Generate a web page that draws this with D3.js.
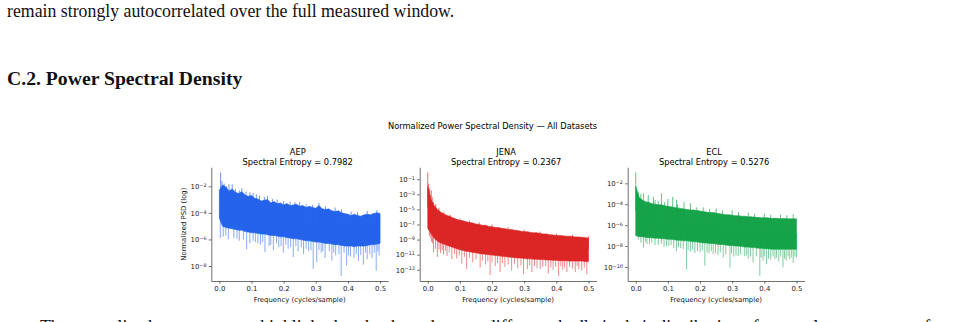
<!DOCTYPE html>
<html><head><meta charset="utf-8">
<script src="https://cdn.jsdelivr.net/npm/d3@7"></script>
<style>
html,body{margin:0;padding:0;background:#fff;overflow:hidden;}
svg{display:block;}
</style></head>
<body>
<svg id="page" width="971" height="322"></svg>
<script>
// ---------- data (PSD values stored as log10 exponents) ----------
const datasets = ["AEP", "JENA", "ECL"];
const entropies = ["0.7982", "0.2367", "0.5276"];
const colors = ["#2563eb", "#dc2626", "#16a34a"];
const xTicks = [0, 0.1, 0.2, 0.3, 0.4, 0.5];
const aepYTicks = [-8, -6, -4, -2];
const jenaYTicks = [-13, -11, -9, -7, -5, -3, -1];
const eclYTicks = [-10, -8, -6, -4, -2];

const freqGrid = [0,0.01,0.02,0.03,0.04,0.05,0.06,0.07,0.08,0.09,0.10,0.11,0.12,0.13,0.14,0.15,0.16,0.17,0.18,0.19,0.20,0.21,0.22,0.23,0.24,0.25,0.26,0.27,0.28,0.29,0.30,0.31,0.32,0.33,0.34,0.35,0.36,0.37,0.38,0.39,0.40,0.41,0.42,0.43,0.44,0.45,0.46,0.47,0.48,0.49,0.50];

const aepHi = [-2.3,-1.9,-2.05,-2.35,-2.2,-2.45,-2.55,-2.4,-2.65,-2.75,-2.7,-2.9,-2.95,-3.1,-3.05,-3.0,-3.25,-3.15,-3.3,-3.25,-3.4,-3.3,-3.45,-3.4,-3.35,-3.5,-3.45,-3.6,-3.5,-3.6,-3.65,-3.45,-3.7,-3.75,-3.7,-3.85,-3.9,-3.85,-4.0,-4.05,-4.1,-4.2,-4.1,-4.2,-4.25,-4.15,-4.1,-4.15,-4.05,-4.0,-4.05];
const aepLo = [-4.4,-5.0,-5.1,-5.15,-5.2,-5.25,-5.3,-5.3,-5.4,-5.45,-5.5,-5.5,-5.55,-5.6,-5.6,-5.65,-5.7,-5.7,-5.75,-5.8,-5.8,-5.85,-5.9,-5.95,-5.95,-6.0,-6.05,-6.1,-6.1,-6.15,-6.2,-6.2,-6.25,-6.3,-6.3,-6.35,-6.4,-6.4,-6.45,-6.5,-6.5,-6.5,-6.55,-6.5,-6.5,-6.5,-6.45,-6.4,-6.4,-6.35,-6.3];
const aepUp = [[0.004,-0.96],[0.008,-1.6],[0.015,-1.8],[0.022,-2.0],[0.03,-1.85],[0.04,-1.85],[0.05,-2.2],[0.062,-2.3],[0.07,-2.15],[0.083,-2.4],[0.095,-2.45],[0.105,-2.5],[0.115,-2.6],[0.125,-2.7],[0.14,-2.8],[0.15,-2.75],[0.165,-2.95],[0.18,-3.0],[0.2,-3.1],[0.22,-3.15],[0.235,-3.2],[0.25,-3.2],[0.27,-3.35],[0.29,-3.4],[0.31,-3.25],[0.33,-3.5],[0.36,-3.6],[0.38,-3.75],[0.41,-3.9],[0.43,-3.95],[0.46,-3.85],[0.49,-3.8]];
const aepDown = [[0.003,-5.9],[0.012,-5.8],[0.02,-5.7],[0.028,-6.0],[0.045,-5.9],[0.055,-5.95],[0.062,-6.1],[0.075,-6.0],[0.085,-6.74],[0.095,-6.3],[0.105,-6.1],[0.112,-6.2],[0.12,-6.3],[0.128,-6.4],[0.135,-6.2],[0.142,-6.96],[0.155,-6.5],[0.16,-6.4],[0.168,-6.8],[0.178,-6.3],[0.185,-6.6],[0.192,-6.5],[0.199,-7.0],[0.207,-6.4],[0.214,-6.7],[0.222,-6.6],[0.23,-7.33],[0.238,-6.5],[0.245,-6.9],[0.255,-6.6],[0.262,-7.1],[0.27,-6.7],[0.278,-6.9],[0.285,-6.8],[0.292,-8.22],[0.303,-7.7],[0.31,-6.8],[0.317,-7.0],[0.322,-6.9],[0.329,-7.4],[0.342,-6.9],[0.35,-7.6],[0.356,-7.0],[0.362,-7.2],[0.372,-7.1],[0.379,-8.74],[0.388,-7.0],[0.396,-7.98],[0.402,-7.2],[0.408,-7.3],[0.419,-7.4],[0.426,-7.1],[0.433,-7.6],[0.44,-7.2],[0.448,-7.9],[0.455,-7.0],[0.46,-7.5],[0.468,-7.1],[0.475,-7.4],[0.482,-7.0],[0.488,-8.35],[0.493,-6.9],[0.497,-7.2]];

const jenaHi = [-2.0,-3.7,-4.5,-5.0,-5.35,-5.6,-5.8,-5.95,-6.15,-6.3,-6.45,-6.5,-6.65,-6.75,-6.8,-6.95,-7.0,-7.1,-7.1,-7.25,-7.3,-7.4,-7.4,-7.5,-7.55,-7.65,-7.65,-7.75,-7.8,-7.9,-7.95,-7.95,-8.05,-8.1,-8.1,-8.2,-8.25,-8.25,-8.35,-8.4,-8.45,-8.45,-8.5,-8.55,-8.55,-8.6,-8.65,-8.65,-8.7,-8.75,-8.8];
const jenaLo = [-7.5,-8.2,-8.8,-9.2,-9.45,-9.6,-9.75,-9.9,-10.05,-10.2,-10.35,-10.45,-10.55,-10.6,-10.7,-10.75,-10.85,-10.9,-10.95,-11.0,-11.05,-11.1,-11.15,-11.2,-11.25,-11.3,-11.35,-11.4,-11.45,-11.45,-11.5,-11.55,-11.55,-11.6,-11.6,-11.65,-11.65,-11.7,-11.7,-11.75,-11.75,-11.8,-11.8,-11.8,-11.85,-11.85,-11.85,-11.85,-11.85,-11.9,-11.9];
const jenaUp = [[0,-0.11],[0.002,-1.6],[0.004,-2.4],[0.006,-2.2],[0.008,-3.1],[0.011,-2.5],[0.014,-3.4],[0.018,-4.0],[0.025,-4.3],[0.035,-4.8],[0.05,-5.3],[0.07,-5.7],[0.1,-6.2],[0.13,-6.5],[0.16,-6.7],[0.2,-7.0],[0.25,-7.35],[0.3,-7.7],[0.35,-7.95],[0.4,-8.2],[0.45,-8.35],[0.5,-8.55]];
const jenaDown = [[0.005,-8.5],[0.008,-8.8],[0.012,-9.3],[0.015,-9.5],[0.018,-10.7],[0.024,-10.2],[0.03,-11.3],[0.035,-10.3],[0.04,-10.8],[0.045,-10.4],[0.049,-11.0],[0.055,-10.5],[0.06,-11.2],[0.067,-10.7],[0.075,-11.6],[0.083,-10.9],[0.09,-11.5],[0.098,-11.1],[0.106,-12.2],[0.114,-11.3],[0.121,-12.9],[0.13,-11.4],[0.14,-12.0],[0.15,-11.6],[0.163,-12.7],[0.17,-11.8],[0.18,-12.3],[0.187,-11.9],[0.194,-13.7],[0.2,-12.0],[0.21,-12.5],[0.217,-12.1],[0.225,-13.3],[0.232,-12.1],[0.24,-12.6],[0.25,-12.3],[0.261,-13.1],[0.27,-12.2],[0.28,-12.8],[0.29,-12.4],[0.298,-13.6],[0.31,-12.9],[0.317,-12.4],[0.324,-13.3],[0.332,-12.5],[0.34,-12.8],[0.35,-12.9],[0.358,-12.6],[0.367,-12.5],[0.375,-13.5],[0.383,-12.7],[0.39,-13.0],[0.398,-12.6],[0.407,-13.8],[0.414,-12.5],[0.42,-13.0],[0.426,-12.7],[0.433,-13.3],[0.441,-12.6],[0.45,-12.8],[0.459,-13.3],[0.465,-12.5],[0.47,-12.9],[0.479,-13.1],[0.487,-12.7],[0.495,-13.6]];

const eclHi = [-2.3,-3.3,-3.6,-3.75,-3.8,-3.95,-4.0,-4.05,-4.05,-4.15,-4.2,-4.25,-4.3,-4.35,-4.4,-4.45,-4.5,-4.55,-4.55,-4.6,-4.65,-4.7,-4.75,-4.8,-4.8,-4.85,-4.9,-4.95,-5.0,-5.0,-5.05,-5.1,-5.1,-5.15,-5.15,-5.2,-5.2,-5.25,-5.25,-5.3,-5.3,-5.3,-5.35,-5.35,-5.35,-5.4,-5.35,-5.4,-5.4,-5.4,-5.4];
const eclLo = [-7.0,-7.1,-7.1,-7.15,-7.2,-7.2,-7.25,-7.25,-7.3,-7.3,-7.35,-7.35,-7.4,-7.45,-7.45,-7.5,-7.5,-7.55,-7.6,-7.6,-7.65,-7.7,-7.7,-7.75,-7.75,-7.8,-7.85,-7.85,-7.9,-7.95,-7.95,-8.0,-8.0,-8.05,-8.1,-8.1,-8.15,-8.15,-8.2,-8.2,-8.25,-8.25,-8.3,-8.3,-8.3,-8.3,-8.3,-8.3,-8.3,-8.3,-8.3];
const eclUp = [[0,-0.96],[0.003,-2.5],[0.008,-2.8],[0.016,-3.0],[0.024,-2.95],[0.039,-3.1],[0.055,-3.3],[0.06,-3.6],[0.07,-3.7],[0.08,-2.95],[0.09,-3.8],[0.1,-3.5],[0.115,-3.3],[0.127,-3.58],[0.13,-4.0],[0.15,-3.8],[0.17,-3.9],[0.19,-4.3],[0.21,-4.3],[0.23,-4.45],[0.25,-4.4],[0.27,-4.6],[0.3,-4.6],[0.32,-4.75],[0.35,-4.8],[0.37,-4.9],[0.4,-4.9],[0.42,-5.0],[0.45,-5.0],[0.47,-5.05],[0.49,-4.95]];
const eclDown = [[0.008,-7.4],[0.016,-7.7],[0.024,-8.16],[0.03,-7.6],[0.035,-7.8],[0.043,-7.8],[0.05,-7.69],[0.06,-7.9],[0.07,-7.9],[0.08,-7.8],[0.088,-8.1],[0.096,-8.0],[0.103,-8.0],[0.11,-7.9],[0.118,-8.2],[0.127,-8.48],[0.133,-8.1],[0.14,-8.2],[0.148,-8.3],[0.158,-10.22],[0.163,-8.4],[0.17,-8.5],[0.177,-8.3],[0.184,-8.64],[0.192,-8.5],[0.2,-8.6],[0.207,-8.4],[0.215,-9.9],[0.222,-8.6],[0.228,-8.7],[0.235,-8.5],[0.241,-8.8],[0.248,-8.7],[0.256,-8.9],[0.263,-8.6],[0.272,-9.1],[0.28,-8.8],[0.293,-10.06],[0.298,-8.7],[0.305,-9.0],[0.312,-8.9],[0.319,-8.96],[0.326,-8.8],[0.339,-8.96],[0.345,-8.9],[0.35,-9.2],[0.357,-9.0],[0.365,-9.58],[0.375,-9.0],[0.386,-10.85],[0.39,-9.1],[0.396,-9.4],[0.4,-9.0],[0.407,-9.74],[0.413,-9.2],[0.42,-9.3],[0.427,-9.0],[0.433,-9.27],[0.438,-9.1],[0.445,-9.5],[0.451,-9.0],[0.458,-10.06],[0.463,-9.2],[0.468,-9.4],[0.474,-9.0],[0.479,-9.27],[0.485,-9.1],[0.49,-9.6],[0.495,-9.0],[0.5,-9.1]];

// ---------- drawing ----------
const svg = d3.select("#page");
const serif = "'Liberation Serif','Times New Roman',serif";
const sans = "'DejaVu Sans',sans-serif";

svg.append("text").attr("x", 7).attr("y", 17.3)
  .attr("font-family", serif).attr("font-size", 17.8).attr("fill", "#111")
  .text("remain strongly autocorrelated over the full measured window.");
svg.append("text").attr("x", 7).attr("y", 85)
  .attr("font-family", serif).attr("font-size", 19.7).attr("font-weight", "bold").attr("fill", "#111")
  .text("C.2. Power Spectral Density");
svg.append("text").attr("x", 40).attr("y", 332.5)
  .attr("font-family", serif).attr("font-size", 17.8).attr("fill", "#111")
  .text("The normalized power spectra highlight that the three datasets differ markedly in their distribution of spectral energy across frequencies, which");

svg.append("text").attr("x", 492.5).attr("y", 129)
  .attr("font-family", sans).attr("font-size", 8.3).attr("text-anchor", "middle").attr("fill", "#000")
  .text("Normalized Power Spectral Density \u2014 All Datasets");

const panels = [
  {hi: aepHi, lo: aepLo, up: aepUp, down: aepDown, ticks: aepYTicks},
  {hi: jenaHi, lo: jenaLo, up: jenaUp, down: jenaDown, ticks: jenaYTicks},
  {hi: eclHi, lo: eclLo, up: eclUp, down: eclDown, ticks: eclYTicks}
];
const panelLeft = [211.3, 419.7, 627.7];
const panelW = 176.8, plotTop = 167.3, plotBottom = 281;

panels.forEach((p, i) => {
  const L = panelLeft[i];
  const x = d3.scaleLinear().domain([-0.025, 0.525]).range([L, L + panelW]);
  const all = p.hi.concat(p.lo, p.up.map(d => d[1]), p.down.map(d => d[1]));
  const mn = d3.min(all), mx = d3.max(all), pad = (mx - mn) * 0.05;
  const y = d3.scaleLog().domain([Math.pow(10, mn - pad), Math.pow(10, mx + pad)]).range([plotBottom, plotTop]);
  const hiAt = d3.scaleLinear().domain(freqGrid).range(p.hi).clamp(true);
  const loAt = d3.scaleLinear().domain(freqGrid).range(p.lo).clamp(true);
  const col = colors[i];
  const g = svg.append("g");

  const area = d3.area()
    .x((d, k) => x(freqGrid[k]))
    .y0((d, k) => y(Math.pow(10, p.lo[k])))
    .y1((d, k) => y(Math.pow(10, p.hi[k])));
  g.append("path").datum(freqGrid).attr("d", area).attr("fill", col)
    .attr("stroke", col).attr("stroke-width", 0.6);

  g.selectAll("line.dn").data(p.down).join("line").attr("class", "dn")
    .attr("x1", d => x(d[0])).attr("x2", d => x(d[0]))
    .attr("y1", d => y(Math.pow(10, (hiAt(d[0]) + loAt(d[0])) / 2)))
    .attr("y2", d => y(Math.pow(10, d[1])))
    .attr("stroke", col).attr("stroke-width", 0.75).attr("stroke-opacity", 0.72);
  g.selectAll("line.up").data(p.up).join("line").attr("class", "up")
    .attr("x1", d => x(d[0])).attr("x2", d => x(d[0]))
    .attr("y1", d => y(Math.pow(10, (hiAt(d[0]) + loAt(d[0])) / 2)))
    .attr("y2", d => y(Math.pow(10, d[1])))
    .attr("stroke", col).attr("stroke-width", 0.8).attr("stroke-opacity", 0.85);

  const gx = svg.append("g").attr("transform", `translate(0,${plotBottom})`)
    .call(d3.axisBottom(x).tickValues(xTicks).tickFormat(d3.format(".1f"))
      .tickSize(2.6).tickPadding(2.2).tickSizeOuter(0));
  gx.selectAll(".tick text").attr("font-family", sans).attr("font-size", 6.9).attr("fill", "#222");
  gx.selectAll("path, line").attr("stroke", "#333").attr("stroke-width", 0.7);

  const gy = svg.append("g").attr("transform", `translate(${L},0)`)
    .call(d3.axisLeft(y).tickValues(p.ticks.map(e => Math.pow(10, e)))
      .tickSize(2.6).tickPadding(2.2).tickSizeOuter(0).tickFormat(() => ""));
  gy.selectAll("path, line").attr("stroke", "#333").attr("stroke-width", 0.7);
  gy.selectAll(".tick text").each(function(d, k) {
    const t = d3.select(this);
    t.attr("font-family", sans).attr("font-size", 6.9).attr("fill", "#222");
    t.append("tspan").text("10");
    t.append("tspan").attr("dy", "-0.42em").attr("font-size", 4.9)
      .text("\u2212" + Math.abs(p.ticks[k]));
  });

  svg.append("text").attr("x", L + panelW / 2).attr("y", 301.5)
    .attr("font-family", sans).attr("font-size", 6.9).attr("text-anchor", "middle").attr("fill", "#111")
    .text("Frequency (cycles/sample)");
  svg.append("text").attr("x", L + panelW / 2 - 2).attr("y", 155)
    .attr("font-family", sans).attr("font-size", 8.3).attr("text-anchor", "middle").attr("fill", "#000")
    .text(datasets[i]);
  svg.append("text").attr("x", L + panelW / 2 - 2).attr("y", 164.7)
    .attr("font-family", sans).attr("font-size", 8.3).attr("text-anchor", "middle").attr("fill", "#000")
    .text("Spectral Entropy = " + entropies[i]);
});

svg.append("text").attr("transform", `translate(183.5,${(plotTop + plotBottom) / 2}) rotate(-90)`)
  .attr("font-family", sans).attr("font-size", 6.9).attr("text-anchor", "middle")
  .attr("dominant-baseline", "central").attr("fill", "#111")
  .text("Normalized PSD (log)");
</script>
</body></html>
